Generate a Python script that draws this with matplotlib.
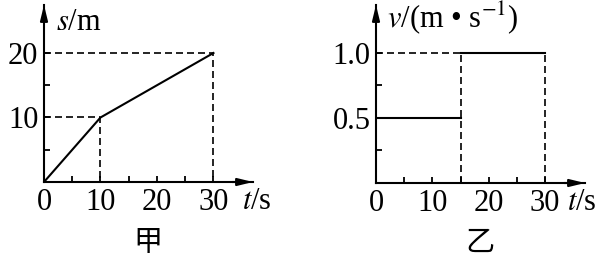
import numpy as np
import matplotlib.pyplot as plt

plt.rcParams['font.family'] = ['Liberation Serif', 'Noto Sans CJK SC']
plt.rcParams['mathtext.fontset'] = 'stix'

# 甲: s-t
t1 = [0, 10, 30]
s1 = [0, 10, 20]
# 乙: v-t
t2a = [0, 15]
v2a = [0.5, 0.5]
t2b = [15, 30]
v2b = [1.0, 1.0]

xticks = [0, 5, 10, 15, 20, 25, 30]
xlabels = ['0', '', '10', '', '20', '', '30']
yticks1 = [5, 10, 15, 20]
ylabels1 = ['', '10', '', '20']
yticks2 = [0.25, 0.5, 0.75, 1.0]
ylabels2 = ['', '0.5', '', '1.0']

fig = plt.figure(figsize=(6.01, 2.58), dpi=100)
ax1 = fig.add_axes([44/601, 76/258, 209/601, 177/258])
ax2 = fig.add_axes([376/601, 75/258, 209/601, 178/258])

fs = 22
lw = 1.5
dash = (0, (4.2, 2.4))

def setup(ax, xmax, ymax, yt, yl):
    ax.set_xlim(0, xmax)
    ax.set_ylim(0, ymax)
    for sp in ['top', 'right']:
        ax.spines[sp].set_visible(False)
    for sp in ['left', 'bottom']:
        ax.spines[sp].set_linewidth(lw)
    ax.set_xticks(xticks)
    ax.set_xticklabels(xlabels)
    ax.set_yticks(yt)
    ax.set_yticklabels(yl)
    ax.tick_params(direction='in', length=4, width=1.3, labelsize=fs)
    ax.tick_params(axis='x', pad=4)
    ax.tick_params(axis='y', pad=4)
    arrow = dict(arrowstyle='-|>,head_length=0.9,head_width=0.22',
                 color='k', lw=lw, shrinkA=0, shrinkB=0)
    ax.annotate('', xy=(1, 0), xytext=(0.9, 0), xycoords='axes fraction',
                arrowprops=arrow)
    ax.annotate('', xy=(0, 1), xytext=(0, 0.9), xycoords='axes fraction',
                arrowprops=arrow)

setup(ax1, 37.0, 27.44, yticks1, ylabels1)
ax1.plot(t1, s1, color='k', lw=lw)
ax1.plot([0, t1[2], t1[2]], [s1[2], s1[2], 0], color='k', lw=1.2, ls=dash)
ax1.plot([0, t1[1], t1[1]], [s1[1], s1[1], 0], color='k', lw=1.2, ls=dash)
ax1.text(2.1, 24.8, r'$s$/m', fontsize=fs, va='center', ha='left')
ax1.text(35.0, -3.1, r'$t$/s', fontsize=fs, va='center', ha='left', clip_on=False)

setup(ax2, 37.1, 1.369, yticks2, ylabels2)
ax2.plot(t2a, v2a, color='k', lw=lw)
ax2.plot(t2b, v2b, color='k', lw=lw)
ax2.plot([0, t2b[0]], [v2b[0], v2b[0]], color='k', lw=1.2, ls=dash)
ax2.plot([t2b[0], t2b[0]], [0, v2b[0]], color='k', lw=1.2, ls=dash)
ax2.plot([t2b[1], t2b[1]], [0, v2b[1]], color='k', lw=1.2, ls=dash)
ax2.text(2.0, 1.27, r'$v$/(m • s$^{-1}$)', fontsize=fs, va='center', ha='left')
ax2.text(33.9, -0.15, r'$t$/s', fontsize=fs, va='center', ha='left', clip_on=False)

fig.text(148/601, 1 - 243/258, '甲', fontsize=21, ha='center', va='center',
         family=['Noto Sans CJK SC'])
fig.text(480/601, 1 - 243/258, '乙', fontsize=21, ha='center', va='center',
         family=['Noto Sans CJK SC'])

fig.savefig('out.png', dpi=100)
